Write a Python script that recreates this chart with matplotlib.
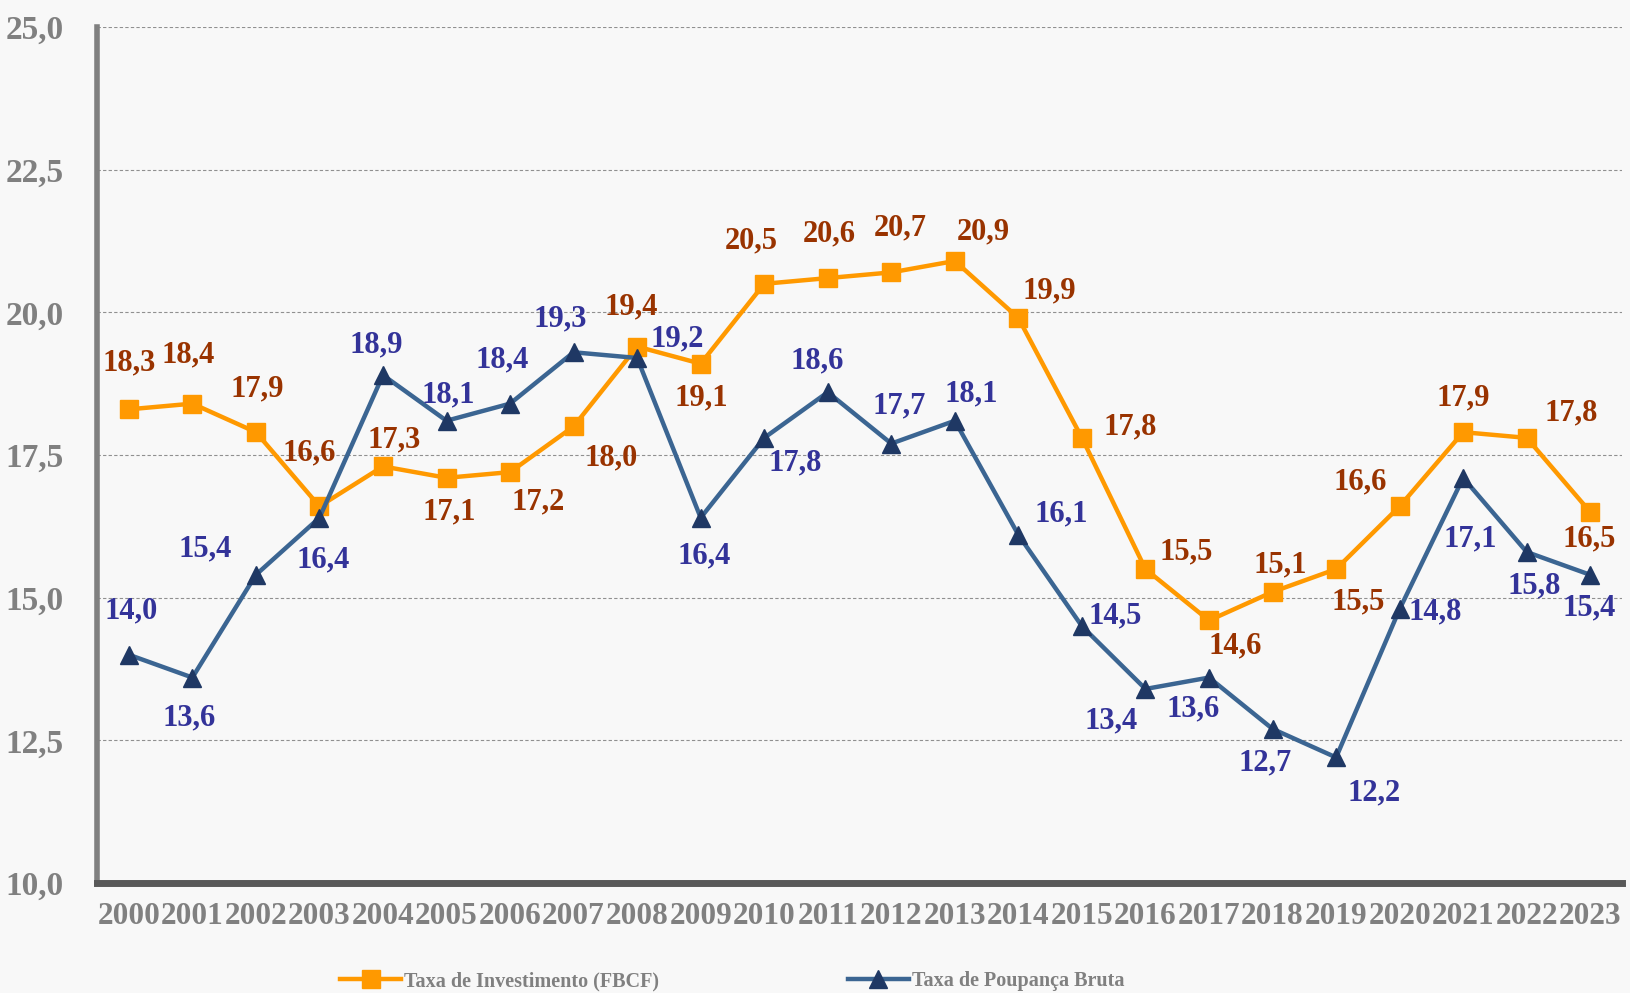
import matplotlib.pyplot as plt

anos = [str(a) for a in range(2000, 2024)]
fbcf = [18.3, 18.4, 17.9, 16.6, 17.3, 17.1, 17.2, 18.0, 19.4, 19.1, 20.5, 20.6,
        20.7, 20.9, 19.9, 17.8, 15.5, 14.6, 15.1, 15.5, 16.6, 17.9, 17.8, 16.5]
poupanca = [14.0, 13.6, 15.4, 16.4, 18.9, 18.1, 18.4, 19.3, 19.2, 16.4, 17.8, 18.6,
            17.7, 18.1, 16.1, 14.5, 13.4, 13.6, 12.7, 12.2, 14.8, 17.1, 15.8, 15.4]

# deslocamento dos rótulos (px, y para cima)
off_fbcf = [(0, 45), (-4, 47), (1, 42), (-10, 51), (11, 25), (3, -33), (27, -29),
            (36, -30), (-6, 38), (1, -33), (-12, 41), (1, 42), (9, 43), (27, 28),
            (30, 26), (46, 11), (39, 17), (25, -24), (7, 26), (21, -31), (-38, 23),
            (0, 33), (43, 24), (-1, -26)]
off_poup = [(2, 42), (-3, -39), (-49, 25), (4, -40), (-6, 29), (2, 25), (-8, 42),
            (-13, 32), (38, 18), (3, -37), (30, -24), (-10, 30), (8, 36), (16, 26),
            (41, 20), (32, 10), (-33, -31), (-15, -30), (-7, -33), (36, -34),
            (34, -3), (7, -59), (7, -33), (-1, -32)]

plt.rcParams['font.family'] = ['Liberation Serif', 'DejaVu Serif']
plt.rcParams['font.weight'] = 'bold'

fig = plt.figure(figsize=(16.31, 9.93), dpi=100, facecolor='#f8f8f8')
ax = fig.add_axes([0.0595, 0.1108, 0.935, 0.862])
ax.set_facecolor('#f8f8f8')

x = list(range(len(anos)))
ax.plot(x, fbcf, color='#ff9900', linewidth=3.2, marker='s', markersize=13,
        markerfacecolor='#ff9900', markeredgecolor='#ff9900',
        label='Taxa de Investimento (FBCF)', zorder=3)
ax.plot(x, poupanca, color='#3b6592', linewidth=3.2, marker='^', markersize=13,
        markerfacecolor='#1f3864', markeredgecolor='#1f3864',
        label='Taxa de Poupança Bruta', zorder=3)

for i in x:
    dx, dy = off_fbcf[i]
    ax.annotate(f'{fbcf[i]:.1f}'.replace('.', ','), (i, fbcf[i]),
                xytext=(dx * 0.75, dy * 0.75), textcoords='offset points',
                ha='center', va='center', fontsize=22, fontweight='bold',
                color='#993300', zorder=4)
    dx, dy = off_poup[i]
    ax.annotate(f'{poupanca[i]:.1f}'.replace('.', ','), (i, poupanca[i]),
                xytext=(dx * 0.75, dy * 0.75), textcoords='offset points',
                ha='center', va='center', fontsize=22, fontweight='bold',
                color='#333399', zorder=4)

ax.set_xlim(-0.5, len(anos) - 0.5)
ax.set_ylim(10, 25)
ax.set_yticks([10, 12.5, 15, 17.5, 20, 22.5, 25])
ax.set_yticklabels(['10,0', '12,5', '15,0', '17,5', '20,0', '22,5', '25,0'])
ax.set_xticks(x)
ax.set_xticklabels(anos)
ax.tick_params(axis='x', length=0, labelsize=22.5, labelcolor='#808080', pad=14)
ax.tick_params(axis='y', length=0, labelsize=24, labelcolor='#808080', pad=24)
for lbl in ax.get_xticklabels() + ax.get_yticklabels():
    lbl.set_fontweight('bold')

ax.grid(axis='y', linestyle=(0, (3, 2)), color='#909090', linewidth=0.8)
ax.set_axisbelow(True)
for s in ['top', 'right']:
    ax.spines[s].set_visible(False)
ax.spines['left'].set_color('#808080')
ax.spines['left'].set_linewidth(4)
ax.spines['bottom'].set_color('#595959')
ax.spines['bottom'].set_linewidth(5)

leg = fig.legend(loc='center', bbox_to_anchor=(0.449, 0.012), ncol=2, frameon=False,
                 handlelength=3, columnspacing=9.4, handletextpad=0.15,
                 prop={'family': 'Liberation Serif', 'weight': 'bold', 'size': 14.5})
for t in leg.get_texts():
    t.set_color('#808080')

fig.savefig('out.png', dpi=100, facecolor=fig.get_facecolor())
